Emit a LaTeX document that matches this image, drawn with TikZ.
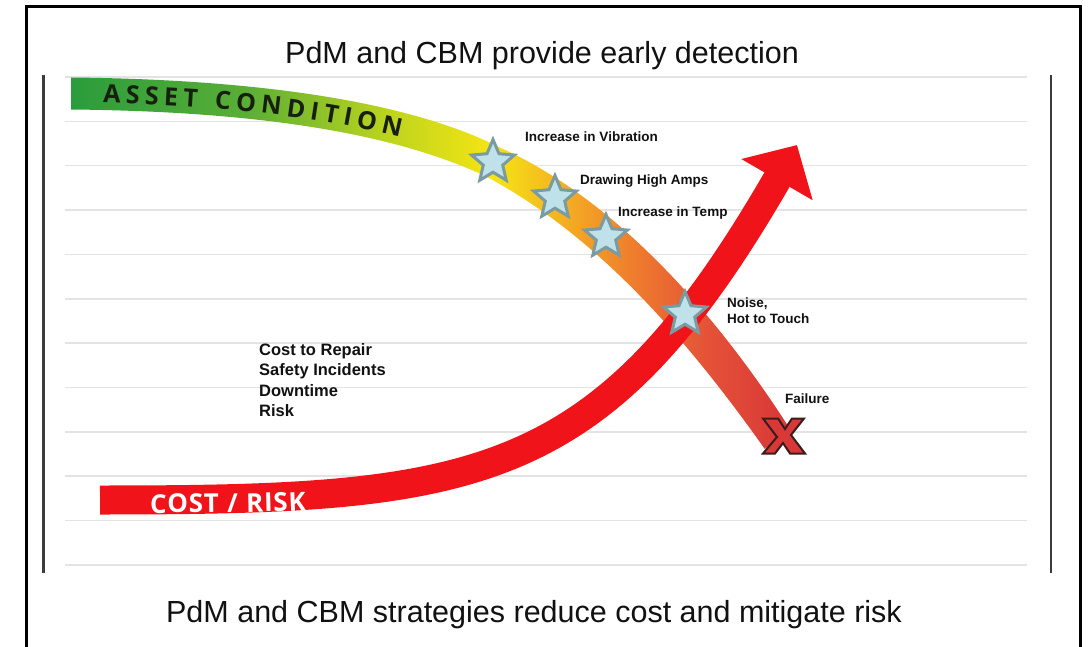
\documentclass[tikz,border=0pt]{standalone}
\usepackage{fontspec}
\setmainfont{Liberation Sans}
\newfontfamily\bandfont{Open Sans}
\usepackage{xcolor}
\usepackage{tikz}
\usetikzlibrary{arrows.meta,shapes.geometric,decorations.text}
\definecolor{ink}{HTML}{111111}
\definecolor{bandink}{HTML}{17200F}
\definecolor{guidegray}{HTML}{E3E3E3}
\definecolor{wallgray}{HTML}{3C3C3C}
\definecolor{riskred}{HTML}{F0141A}
\definecolor{starfill}{HTML}{BFE2EA}
\definecolor{staredge}{HTML}{7B9BA3}
\definecolor{xfill}{HTML}{D93838}
\definecolor{xedge}{HTML}{3A1C1C}
\definecolor{ac0}{HTML}{2A9C3C}
\definecolor{ac1}{HTML}{5AAE36}
\definecolor{ac2}{HTML}{BCD41E}
\definecolor{ac3}{HTML}{F5E514}
\definecolor{ac4}{HTML}{F4AE22}
\definecolor{ac5}{HTML}{EE7A2E}
\definecolor{ac6}{HTML}{E45238}
\definecolor{ac7}{HTML}{DA3A37}
\pgfdeclarehorizontalshading{assetshade}{100bp}{color(0bp)=(ac0); color(25bp)=(ac0);
  color(37.1bp)=(ac1); color(46.9bp)=(ac2); color(54.3bp)=(ac3); color(59.3bp)=(ac4);
  color(64.3bp)=(ac5); color(69.2bp)=(ac6); color(74bp)=(ac7); color(100bp)=(ac7)}

\begin{document}
\begin{tikzpicture}[x=1pt,y=-1pt,
  guide/.style={draw=guidegray,line width=1.5pt},
  wall/.style={draw=wallgray,line width=2.5pt},
  headline/.style={anchor=base,inner sep=0pt,text=ink,font=\fontsize{30.5}{36}\selectfont},
  note/.style={anchor=base west,inner sep=0pt,text=ink,font=\bfseries\fontsize{13.5}{16}\selectfont},
  cause/.style={anchor=north west,inner sep=0pt,align=left,text=ink,font=\bfseries\fontsize{16.5}{20.5}\selectfont},
  alarm/.style={star,star points=5,star point ratio=2.2,minimum size=45pt,inner sep=0pt,draw=staredge,line width=3pt,fill=starfill}]
  \useasboundingbox (0,0) rectangle (1089,647);
  \fill[white] (0,0) rectangle (1089,647);
  % frame and rulings
  \draw[line width=3pt] (26,647) -- (26,7) -- (1080,7) -- (1080,647);
  \draw[wall] (43.5,75) -- (43.5,573);
  \draw[wall] (1051,75) -- (1051,573);
  \foreach \i in {0,...,11} \draw[guide] (65,{77+44.36*\i}) -- (1027,{77+44.36*\i});
  \node[headline] (top) at (542,64) {PdM and CBM provide early detection};
  \node[headline] (bottom) at (534,622) {PdM and CBM strategies reduce cost and mitigate risk};

  % asset condition band (upper edge, then lower edge back)
  \coordinate (u0) at (71,77.5);
  \coordinate (u3) at (500,147.6);
  \coordinate (u6) at (791.3,431.1);
  \coordinate (d0) at (71,109.5);
  \coordinate (d3) at (486,176.4);
  \coordinate (d6) at (764.7,448.9);
  \shade[shading=assetshade]
    (u0) .. controls (263,79.4) and (411.4,102.5) .. (u3)
         .. controls (599.5,191.9) and (702.3,291.4) .. (u6)
    -- (d6) .. controls (669.1,313.6) and (581.9,227.9) .. (d3)
         .. controls (396,134.1) and (263,111.4) .. (d0) -- cycle;
  \path[decorate,decoration={text along path,text align={fit to path},text color=bandink,
    text={|\bandfont\bfseries\fontsize{25}{25}\selectfont|ASSET CONDITION}}]
    (103,103) .. controls (230,106) and (320,118) .. (400,137);

  % cost / risk arrow
  \coordinate (c0) at (100,500);
  \coordinate (c1) at (480,500);
  \coordinate (c2) at (602,482.7);
  \coordinate (c3) at (797,145);
  \draw[line width=29pt,riskred,-{Triangle[length=40pt,width=80pt]}] (c0) .. controls (c1) and (c2) .. (c3);
  \path[decorate,decoration={text along path,text align={fit to path},text color=white,
    text={|\bandfont\bfseries\fontsize{26}{26}\selectfont|COST / RISK}}]
    (150,513) .. controls (200,513) and (260,512.5) .. (306,510.5);

  % warning signs
  \node[alarm] (s1) at (493,162) {};
  \node[alarm] (s2) at (555,198) {};
  \node[alarm] (s3) at (606,237) {};
  \node[alarm] (s4) at (685,314) {};
  \draw[fill=xfill,draw=xedge,line width=2pt,shift={(784,436)}]
    (-21,-17.5) -- (-6,-17.5) -- (1,-7) -- (8,-17.5) -- (20,-17.5) -- (7,-1) -- (21,17.5)
    -- (6,17.5) -- (-1,7) -- (-9,17.5) -- (-21,17.5) -- (-7,1) -- cycle;

  \node[note] (vib) at (525,142) {Increase in Vibration};
  \node[note] (amps) at (580,185) {Drawing High Amps};
  \node[note] (temp) at (618,216) {Increase in Temp};
  \node[note] (noise) at (727,307) {Noise,};
  \node[note] (touch) at (727,323) {Hot to Touch};
  \node[note] (fail) at (785,403) {Failure};
  \node[cause] (costs) at (259,343) {Cost to Repair\\Safety Incidents\\Downtime\\Risk};
\end{tikzpicture}
\end{document}
